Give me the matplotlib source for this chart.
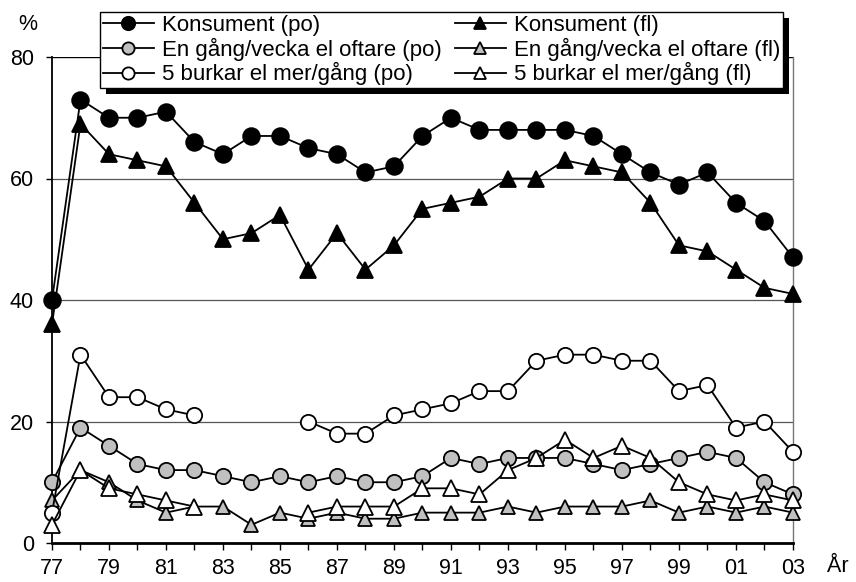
import numpy as np
import matplotlib
matplotlib.use("Agg")
import matplotlib.pyplot as plt
import matplotlib.patches as mpatches

plt.rcParams['font.family'] = ['Liberation Sans', 'DejaVu Sans']

# data
years = list(range(1977, 2004))
nan = np.nan
konsument_po = [40, 73, 70, 70, 71, 66, 64, 67, 67, 65, 64, 61, 62, 67, 70, 68, 68, 68, 68, 67, 64, 61, 59, 61, 56, 53, 47]
konsument_fl = [36, 69, 64, 63, 62, 56, 50, 51, 54, 45, 51, 45, 49, 55, 56, 57, 60, 60, 63, 62, 61, 56, 49, 48, 45, 42, 41]
vecka_po = [10, 19, 16, 13, 12, 12, 11, 10, 11, 10, 11, 10, 10, 11, 14, 13, 14, 14, 14, 13, 12, 13, 14, 15, 14, 10, 8]
vecka_fl = [7, 12, 10, 7, 5, 6, 6, 3, 5, 4, 5, 4, 4, 5, 5, 5, 6, 5, 6, 6, 6, 7, 5, 6, 5, 6, 5]
burkar_po = [5, 31, 24, 24, 22, 21, nan, nan, nan, 20, 18, 18, 21, 22, 23, 25, 25, 30, 31, 31, 30, 30, 25, 26, 19, 20, 15]
burkar_fl = [3, 12, 9, 8, 7, 6, nan, nan, nan, 5, 6, 6, 6, 9, 9, 8, 12, 14, 17, 14, 16, 14, 10, 8, 7, 8, 7]

labels = ["Konsument (po)", "Konsument (fl)",
          "En gång/vecka el oftare (po)", "En gång/vecka el oftare (fl)",
          "5 burkar el mer/gång (po)", "5 burkar el mer/gång (fl)"]
series = [konsument_po, konsument_fl, vecka_po, vecka_fl, burkar_po, burkar_fl]
markers = ['o', '^', 'o', '^', 'o', '^']
fills = ['black', 'black', '#c0c0c0', '#c0c0c0', 'white', 'white']
sizes = [12, 11, 11, 10, 11, 11]

W, H = 856, 582
fig = plt.figure(figsize=(W / 100, H / 100), dpi=100)
ax = fig.add_axes([52 / W, 39 / H, 741 / W, 486 / H])

handles = []
for vals, lab, m, fc, ms in zip(series, labels, markers, fills, sizes):
    h, = ax.plot(years, vals, color='black', lw=1.3, marker=m, ms=ms,
                 mfc=fc, mec='black', mew=1.3, label=lab, clip_on=False, zorder=3)
    handles.append(h)

ax.set_xlim(1977, 2003)
ax.set_ylim(0, 80)
ax.set_yticks([0, 20, 40, 60, 80])
ax.set_xticks(years)
ax.set_xticklabels([f"{y % 100:02d}" if (y - 1977) % 2 == 0 else "" for y in years])
ax.tick_params(axis='x', length=5, width=1, pad=6, labelsize=15.5, direction='out')
ax.tick_params(axis='y', length=4, width=1, pad=9, labelsize=15.5, direction='out')

for y in [20, 40, 60]:
    ax.axhline(y, color='#555555', lw=0.9, zorder=1)
ax.axhline(80, color='black', lw=1.0, zorder=1)

ax.spines['top'].set_visible(False)
ax.spines['right'].set_color('#777777')
ax.spines['right'].set_linewidth(1.0)
ax.spines['left'].set_linewidth(1.3)
ax.spines['bottom'].set_linewidth(2.0)

fig.text(28 / W, 1 - 25 / H, "%", fontsize=15.5, ha='center', va='center')
fig.text(838 / W, 1 - 566 / H, "År", fontsize=15.5, ha='center', va='center')

order = [0, 2, 4, 1, 3, 5]
leg = ax.legend([handles[i] for i in order], [labels[i] for i in order],
                ncol=2, loc='upper left',
                bbox_to_anchor=(100 / W, 1 - 12 / H),
                bbox_transform=fig.transFigure, fontsize=16,
                fancybox=False, framealpha=1, edgecolor='black',
                handlelength=2.3, handletextpad=0.35, labelspacing=0.08,
                borderpad=0.12, borderaxespad=0, columnspacing=0.6,
                markerscale=0.8)
leg.get_frame().set_linewidth(1.0)

fig.canvas.draw()
bb = leg.get_window_extent().transformed(fig.transFigure.inverted())
shadow = mpatches.Rectangle((bb.x0 + 6 / W, bb.y0 - 6 / H), bb.width, bb.height,
                            transform=fig.transFigure, facecolor='black',
                            edgecolor='none', zorder=4.9, clip_on=False)
ax.add_artist(shadow)

fig.savefig("out.png", dpi=100)
